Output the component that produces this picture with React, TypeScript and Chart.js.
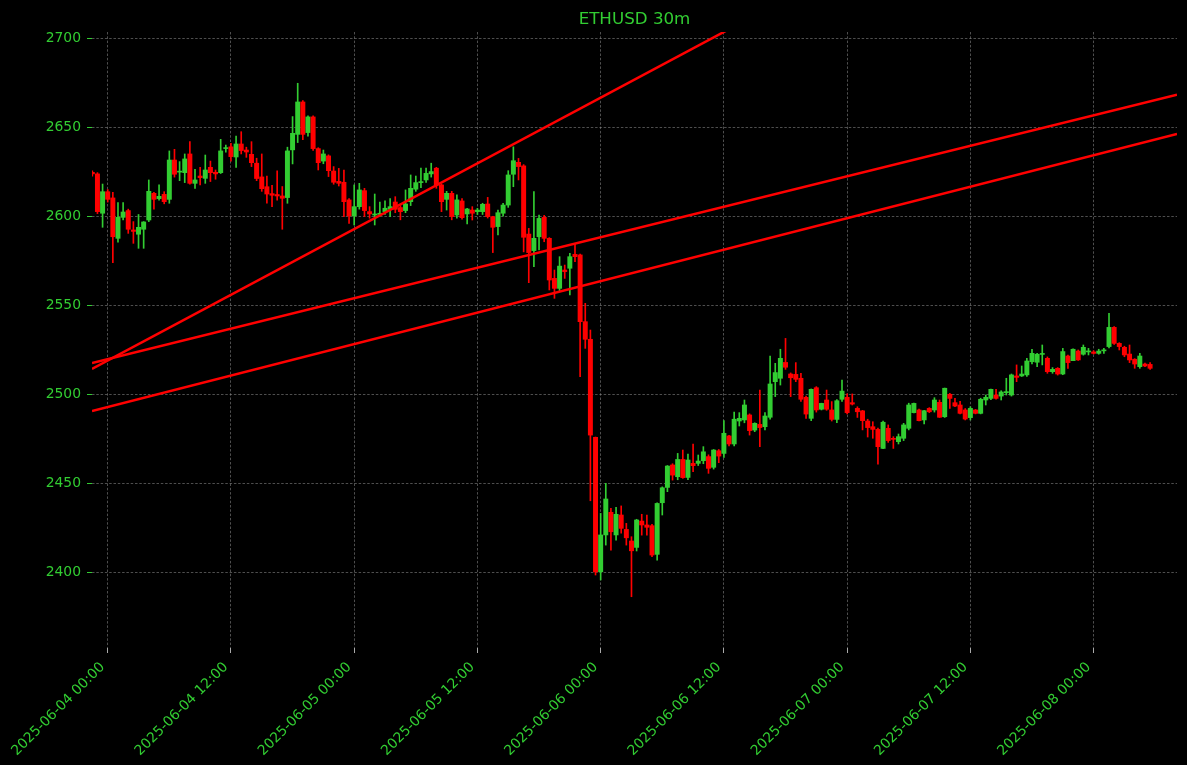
import React, { useEffect, useRef } from 'react';
import { Chart, registerables } from 'chart.js';

Chart.register(...registerables);

// 30-minute candles; slot index is counted from 2025-06-04 00:00 (first candle = 2025-06-03 22:30)
const firstSlot = -3;

const opens = [
  2624.7, 2623.8, 2601.7, 2613.8, 2610.3, 2587.6, 2599.4, 2603.2, 2592.3, 2589.9,
  2592.7, 2597.9, 2612.9, 2609.9, 2612.3, 2609.5, 2631.6, 2624.8, 2624.5, 2635.0,
  2618.5, 2622.6, 2621.3, 2627.5, 2624.7, 2624.5, 2638.0, 2639.0, 2633.3, 2640.6,
  2637.2, 2634.8, 2629.8, 2622.1, 2616.6, 2612.7, 2612.2, 2611.4, 2610.5, 2637.3,
  2646.0, 2664.2, 2647.0, 2655.8, 2638.0, 2631.0, 2633.9, 2625.4, 2619.6, 2619.1,
  2609.2, 2600.2, 2605.4, 2614.4, 2602.6, 2600.7, 2601.0, 2602.6, 2603.9, 2608.0,
  2604.9, 2603.2, 2608.2, 2615.2, 2618.9, 2620.4, 2623.8, 2627.0, 2617.6, 2609.5,
  2612.9, 2600.7, 2608.6, 2601.3, 2603.5, 2602.6, 2602.6, 2606.9, 2599.8, 2594.2,
  2601.7, 2606.3, 2623.6, 2630.3, 2628.3, 2590.0, 2580.7, 2588.5, 2599.4, 2587.6,
  2565.1, 2559.5, 2569.8, 2570.8, 2578.6, 2578.3, 2540.8, 2530.9, 2475.8, 2400.3,
  2421.0, 2433.7, 2421.0, 2432.2, 2424.1, 2417.6, 2414.0, 2428.8, 2426.6, 2426.2,
  2410.1, 2439.1, 2447.7, 2460.3, 2453.7, 2463.4, 2453.3, 2461.2, 2461.2, 2462.7,
  2465.0, 2459.0, 2468.3, 2466.8, 2476.6, 2472.1, 2485.0, 2485.6, 2488.4, 2479.9,
  2483.1, 2481.8, 2487.1, 2507.1, 2509.0, 2517.9, 2511.4, 2511.2, 2509.0, 2498.3,
  2486.5, 2503.7, 2491.6, 2496.8, 2491.2, 2485.9, 2497.2, 2498.3, 2495.3, 2492.1,
  2490.7, 2485.0, 2481.8, 2480.3, 2469.6, 2480.9, 2475.1, 2473.4, 2475.3, 2480.9,
  2489.7, 2491.2, 2485.6, 2492.1, 2491.2, 2495.5, 2487.4, 2500.0, 2495.3, 2494.0,
  2491.2, 2486.9, 2491.2, 2489.3, 2496.8, 2497.7, 2499.6, 2499.0, 2500.9, 2499.6,
  2510.3, 2510.3, 2510.9, 2518.3, 2518.0, 2522.4, 2520.2, 2512.7, 2514.6, 2511.4,
  2521.5, 2518.9, 2524.3, 2522.5, 2523.8, 2523.8, 2523.0, 2524.4, 2526.8, 2537.6,
  2528.6, 2526.4, 2522.6, 2519.7, 2515.5, 2517.0, 2516.8,
];

const highs = [
  2625.5, 2624.5, 2618.1, 2615.0, 2613.5, 2607.7, 2607.7, 2604.0, 2597.0, 2601.0,
  2597.0, 2620.4, 2613.5, 2617.6, 2613.8, 2636.7, 2637.6, 2630.7, 2635.0, 2642.0,
  2626.4, 2627.5, 2634.4, 2631.0, 2626.0, 2643.2, 2640.0, 2641.0, 2645.1, 2647.5,
  2638.8, 2641.9, 2632.6, 2635.0, 2622.6, 2617.4, 2625.5, 2616.7, 2638.8, 2656.0,
  2674.7, 2665.0, 2656.4, 2656.4, 2638.5, 2637.2, 2634.5, 2627.9, 2626.9, 2626.0,
  2610.0, 2617.6, 2618.5, 2615.7, 2605.4, 2612.5, 2608.0, 2608.6, 2610.0, 2611.0,
  2606.0, 2614.8, 2623.2, 2622.6, 2627.0, 2627.0, 2629.8, 2627.5, 2618.0, 2614.0,
  2614.0, 2612.0, 2610.0, 2604.5, 2605.4, 2604.5, 2607.3, 2610.6, 2600.0, 2603.5,
  2607.3, 2625.6, 2639.0, 2632.5, 2629.0, 2593.2, 2613.8, 2600.7, 2600.5, 2588.0,
  2569.8, 2577.3, 2572.6, 2579.2, 2584.4, 2578.8, 2551.1, 2536.1, 2476.0, 2433.1,
  2450.0, 2436.0, 2436.5, 2437.3, 2427.5, 2420.0, 2429.8, 2432.6, 2432.2, 2427.0,
  2439.0, 2448.0, 2460.0, 2461.0, 2466.8, 2468.7, 2466.4, 2472.1, 2465.9, 2470.6,
  2466.0, 2469.0, 2469.0, 2485.2, 2477.0, 2490.0, 2489.7, 2496.8, 2489.0, 2484.0,
  2502.4, 2489.7, 2521.5, 2517.4, 2525.3, 2531.4, 2512.0, 2517.8, 2511.8, 2499.0,
  2503.0, 2504.3, 2495.0, 2502.4, 2495.9, 2497.0, 2508.0, 2500.2, 2500.2, 2493.0,
  2491.0, 2486.0, 2484.6, 2481.0, 2485.0, 2482.8, 2476.2, 2477.7, 2483.7, 2495.0,
  2495.0, 2491.7, 2491.0, 2492.5, 2498.1, 2496.8, 2503.5, 2500.5, 2497.7, 2496.0,
  2492.0, 2493.0, 2491.5, 2497.8, 2499.6, 2503.0, 2502.8, 2502.0, 2509.0, 2511.4,
  2516.5, 2515.9, 2520.2, 2525.3, 2523.0, 2527.7, 2521.0, 2515.0, 2515.0, 2525.8,
  2522.0, 2525.5, 2524.9, 2527.7, 2525.8, 2524.5, 2525.3, 2525.8, 2545.5, 2538.0,
  2529.0, 2527.0, 2527.7, 2520.0, 2523.0, 2517.5, 2517.8,
];

const lows = [
  2622.5, 2601.5, 2593.8, 2608.0, 2574.0, 2585.4, 2598.0, 2590.4, 2584.8, 2582.0,
  2582.0, 2597.0, 2604.0, 2609.0, 2607.0, 2607.3, 2622.0, 2620.0, 2618.9, 2618.0,
  2615.7, 2617.6, 2618.5, 2619.5, 2620.8, 2624.0, 2636.0, 2631.0, 2627.5, 2635.0,
  2633.1, 2627.9, 2620.0, 2614.0, 2607.3, 2605.4, 2609.0, 2592.7, 2607.3, 2629.4,
  2641.4, 2643.0, 2645.0, 2637.0, 2626.0, 2629.5, 2622.3, 2618.0, 2617.0, 2599.8,
  2596.0, 2595.1, 2604.0, 2599.8, 2598.9, 2595.1, 2600.0, 2601.0, 2599.8, 2602.0,
  2598.0, 2602.0, 2606.0, 2614.0, 2616.0, 2619.0, 2622.0, 2615.7, 2602.6, 2603.5,
  2598.0, 2599.0, 2598.3, 2595.7, 2597.9, 2601.0, 2601.0, 2599.0, 2579.6, 2589.5,
  2600.0, 2605.0, 2616.6, 2620.4, 2580.0, 2562.7, 2571.7, 2581.1, 2585.7, 2558.6,
  2553.9, 2558.0, 2565.1, 2555.8, 2574.5, 2509.9, 2525.8, 2440.2, 2398.5, 2395.7,
  2415.3, 2412.5, 2418.0, 2422.0, 2415.3, 2386.3, 2412.0, 2420.9, 2420.9, 2408.8,
  2406.9, 2432.2, 2445.3, 2451.8, 2452.0, 2452.8, 2452.0, 2456.5, 2460.0, 2461.0,
  2455.6, 2458.0, 2461.6, 2464.6, 2471.0, 2471.0, 2482.2, 2484.0, 2477.1, 2479.0,
  2470.6, 2480.0, 2486.0, 2498.7, 2505.2, 2514.0, 2498.7, 2507.1, 2496.0, 2486.5,
  2485.2, 2490.0, 2491.2, 2491.0, 2485.0, 2484.1, 2496.0, 2489.0, 2494.0, 2487.0,
  2480.0, 2476.0, 2475.3, 2460.8, 2469.5, 2473.0, 2469.6, 2472.1, 2474.0, 2480.0,
  2489.5, 2485.0, 2483.3, 2489.7, 2490.0, 2487.0, 2487.0, 2492.1, 2493.0, 2489.0,
  2485.6, 2485.6, 2489.0, 2489.0, 2494.0, 2497.0, 2497.2, 2496.8, 2499.6, 2499.0,
  2507.1, 2510.0, 2510.0, 2517.0, 2515.5, 2516.5, 2511.8, 2511.8, 2510.8, 2511.0,
  2514.6, 2518.9, 2519.0, 2522.0, 2522.1, 2522.6, 2522.5, 2523.0, 2526.0, 2528.0,
  2524.9, 2521.1, 2517.8, 2514.6, 2514.6, 2515.5, 2514.0,
];

const closes = [
  2623.8, 2602.6, 2613.8, 2609.5, 2588.5, 2599.4, 2602.4, 2592.7, 2591.5, 2593.8,
  2596.8, 2614.0, 2609.5, 2611.2, 2608.2, 2631.6, 2623.6, 2625.2, 2632.2, 2618.5,
  2620.4, 2621.7, 2626.0, 2624.5, 2623.8, 2636.7, 2638.3, 2633.5, 2640.6, 2636.9,
  2636.1, 2630.1, 2621.2, 2615.5, 2612.5, 2611.8, 2611.4, 2610.1, 2636.7, 2646.6,
  2664.2, 2646.0, 2655.8, 2638.0, 2630.1, 2635.0, 2625.6, 2619.1, 2618.5, 2608.2,
  2600.2, 2605.4, 2614.8, 2603.2, 2601.3, 2601.3, 2601.7, 2604.5, 2605.4, 2603.9,
  2602.6, 2606.9, 2615.7, 2618.9, 2619.2, 2624.1, 2625.1, 2617.6, 2608.2, 2612.9,
  2599.8, 2609.2, 2599.2, 2604.1, 2601.7, 2603.5, 2606.7, 2599.8, 2593.8, 2602.0,
  2606.3, 2623.2, 2631.2, 2627.9, 2588.2, 2579.6, 2587.6, 2598.8, 2587.6, 2564.2,
  2559.5, 2572.0, 2568.9, 2577.3, 2577.3, 2540.8, 2530.9, 2477.1, 2400.3, 2421.0,
  2441.2, 2422.8, 2432.6, 2424.7, 2419.4, 2412.1, 2429.4, 2426.6, 2425.3, 2409.7,
  2438.7, 2447.5, 2459.7, 2454.6, 2463.4, 2453.2, 2463.1, 2459.9, 2462.5, 2467.7,
  2458.4, 2468.7, 2465.3, 2478.1, 2472.1, 2486.0, 2486.5, 2494.0, 2479.6, 2483.7,
  2481.3, 2487.8, 2505.8, 2512.2, 2520.2, 2515.2, 2509.3, 2508.4, 2497.2, 2488.9,
  2502.8, 2491.2, 2494.9, 2491.6, 2485.9, 2496.4, 2501.8, 2489.7, 2494.5, 2490.2,
  2485.2, 2481.3, 2480.3, 2470.6, 2484.3, 2474.0, 2474.7, 2476.2, 2482.8, 2494.0,
  2494.9, 2485.2, 2490.8, 2490.2, 2496.8, 2487.1, 2503.4, 2497.7, 2493.4, 2489.3,
  2486.1, 2492.1, 2489.3, 2497.2, 2498.3, 2502.8, 2497.7, 2501.3, 2501.5, 2510.9,
  2509.5, 2511.4, 2518.7, 2523.0, 2522.5, 2522.6, 2512.7, 2514.0, 2511.4, 2524.0,
  2517.8, 2525.3, 2519.3, 2526.4, 2524.0, 2523.0, 2524.3, 2524.6, 2537.6, 2528.6,
  2526.8, 2522.1, 2519.3, 2517.0, 2521.5, 2515.9, 2514.6,
];

// x-axis tick labels (every 12 hours = 24 slots)
const tickLabels = [
  '2025-06-04 00:00', '2025-06-04 12:00', '2025-06-05 00:00', '2025-06-05 12:00',
  '2025-06-06 00:00', '2025-06-06 12:00', '2025-06-07 00:00', '2025-06-07 12:00',
  '2025-06-08 00:00',
];
const slotsPerTick = 24;

const yTicks = [2400, 2450, 2500, 2550, 2600, 2650, 2700];

// axis ranges
const xMin = -3.06;
const xMax = 208.24;
const yMin = 2357.5;
const yMax = 2703.5;

// trend lines: value at left edge (xMin) and right edge (xMax)
const lineStartValues = [2514.2, 2517.6, 2490.6];
const lineEndValues = [2839.3, 2668.3, 2646.2];

const GREEN = '#32CD32';
const RED = '#FF0000';
const FONT = "'DejaVu Sans', sans-serif";

export default function App() {
  const ref = useRef<HTMLCanvasElement | null>(null);

  useEffect(() => {
    if (!ref.current) return;
    const slots = opens.map((_, k) => firstSlot + k);
    const colors = opens.map((o, k) => (closes[k] >= o ? GREEN : RED));

    const wicks = slots.map((x, k) => ({ x, y: [lows[k], highs[k]] }));
    const bodies = slots.map((x, k) => ({ x, y: [opens[k], closes[k]] }));

    const lineSets = lineStartValues.map((v, k) => ({
      type: 'line' as const,
      data: [
        { x: xMin, y: v },
        { x: xMax, y: lineEndValues[k] },
      ],
      borderColor: RED,
      borderWidth: 2.5,
      pointRadius: 0,
      fill: false,
      clip: 0,
      order: 0,
    }));

    const titlePlugin = {
      id: 'customTitle',
      afterDraw(chart: any) {
        const { ctx, chartArea } = chart;
        ctx.save();
        ctx.fillStyle = GREEN;
        ctx.font = `16.7px ${FONT}`;
        ctx.textAlign = 'center';
        ctx.textBaseline = 'alphabetic';
        ctx.fillText('ETHUSD 30m', (chartArea.left + chartArea.right) / 2, 24);
        ctx.restore();
      },
    };

    const chart = new Chart(ref.current, {
      type: 'bar',
      data: {
        datasets: [
          {
            type: 'bar',
            data: wicks as any,
            backgroundColor: colors,
            barThickness: 1,
            grouped: false,
            borderWidth: 0,
            clip: 0,
            order: 2,
          } as any,
          {
            type: 'bar',
            data: bodies as any,
            backgroundColor: colors,
            barThickness: 4.3,
            minBarLength: 1,
            grouped: false,
            borderWidth: 0,
            clip: 0,
            order: 1,
          } as any,
          ...(lineSets as any[]),
        ],
      },
      options: {
        animation: false,
        responsive: false,
        devicePixelRatio: 1,
        layout: { padding: { left: 0, right: 10, top: 32, bottom: 0 } },
        plugins: {
          legend: { display: false },
          tooltip: { enabled: false },
          title: { display: false },
        },
        scales: {
          x: {
            type: 'linear',
            min: xMin,
            max: xMax,
            offset: false,
            afterBuildTicks: (s: any) => {
              s.ticks = tickLabels.map((_, k) => ({ value: k * slotsPerTick }));
            },
            afterFit: (s: any) => {
              s.height = 117;
            },
            grid: {
              color: 'rgba(150,150,150,0.75)',
              lineWidth: 0.7,
              offset: false,
              drawTicks: true,
              tickLength: 5,
              tickColor: '#aaaaaa',
              tickWidth: 1,
              tickBorderDash: [],
            },
            border: { display: false, dash: [2.5, 1.8] },
            ticks: {
              autoSkip: false,
              minRotation: 45,
              maxRotation: 45,
              padding: 6,
              labelOffset: -5,
              color: GREEN,
              font: { family: FONT, size: 13.9 },
              callback: (v: any) => tickLabels[Math.round(Number(v) / slotsPerTick)] ?? '',
            },
          },
          y: {
            type: 'linear',
            min: yMin,
            max: yMax,
            beginAtZero: false,
            afterBuildTicks: (s: any) => {
              s.ticks = yTicks.map((v) => ({ value: v }));
            },
            afterFit: (s: any) => {
              s.width = 92;
            },
            grid: {
              color: 'rgba(150,150,150,0.75)',
              lineWidth: 0.7,
              drawTicks: true,
              tickLength: 5,
              tickColor: GREEN,
              tickWidth: 1,
              tickBorderDash: [],
            },
            border: { display: false, dash: [2.5, 1.8] },
            ticks: {
              padding: 6,
              color: GREEN,
              font: { family: FONT, size: 13.9 },
              callback: (v: any) => String(v),
            },
          },
        },
      } as any,
      plugins: [titlePlugin],
    });

    return () => chart.destroy();
  }, []);

  return (
    <div
      style={{
        position: 'fixed',
        left: 0,
        top: 0,
        width: 1187,
        height: 765,
        background: '#000000',
      }}
    >
      <canvas ref={ref} width={1187} height={765} style={{ display: 'block' }} />
    </div>
  );
}
